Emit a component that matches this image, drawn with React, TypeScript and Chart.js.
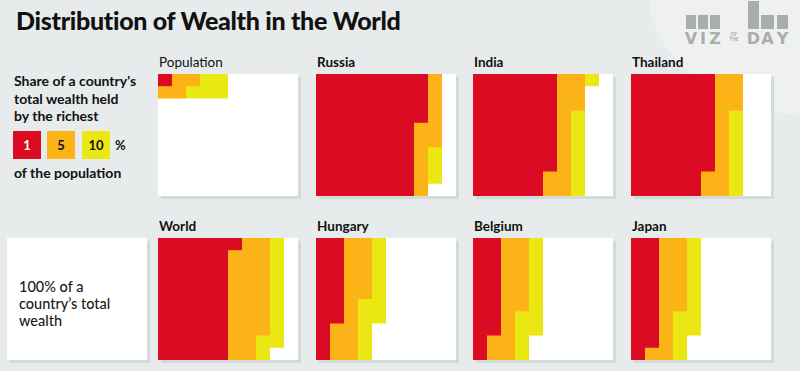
import React, { useEffect, useRef } from "react";
import { Chart, registerables } from "chart.js";
Chart.register(...registerables);

// ---- data ----
const panelNames = ["Population", "Russia", "India", "Thailand", "World", "Hungary", "Belgium", "Japan"];
// number of cells (out of 100) held by the richest 1%, 5%, 10% (cumulative)
const top1Cells = [1, 74, 58, 58, 51, 17, 18, 19];
const top5Cells = [5, 86, 73, 73, 78, 35, 36, 36];
const top10Cells = [10, 89, 81, 80, 89, 47, 48, 48];
const cellsPerColumn = [2, 10, 10, 10, 10, 10, 10, 10];
const columnLabels = ["1", "2", "3", "4", "5", "6", "7", "8", "9", "10"];
const legendLabels = ["1", "5", "10"];
const seriesNames = ["Richest 1%", "Richest 5%", "Richest 10%"];

const RED = "#da0b22";
const ORANGE = "#fbb317";
const YELLOW = "#ebe712";
const BG = "#e7ebeb";
const SHADOW = "#d3dada";
const LOGO = "#a9adad";
const FONT = "Lato, 'Noto Sans', sans-serif";

const panelLefts = [158, 316, 473, 631];
const panelTops = [74, 238];
const PW = 140;
const PH = 122;

function columnFill(total: number, perCol: number): (number | null)[] {
  return columnLabels.map((_, c) => {
    const v = Math.max(0, Math.min(perCol, total - perCol * c));
    return v > 0 ? v : null;
  });
}

export default function App() {
  const refs = useRef<(HTMLCanvasElement | null)[]>([]);

  useEffect(() => {
    document.body.style.margin = "0";
    const charts: Chart[] = [];
    panelNames.forEach((name, i) => {
      const cv = refs.current[i];
      if (!cv) return;
      const h = cellsPerColumn[i];
      const totals = [top1Cells[i], top5Cells[i], top10Cells[i]];
      const cols = [RED, ORANGE, YELLOW];
      charts.push(
        new Chart(cv, {
          type: "bar",
          data: {
            labels: columnLabels,
            datasets: totals.map((t, k) => ({
              label: seriesNames[k],
              data: columnFill(t, h),
              backgroundColor: cols[k],
              borderWidth: 0,
              inflateAmount: 0,
              grouped: false,
              barPercentage: 1,
              categoryPercentage: 1,
            })) as any,
          },
          options: {
            animation: false,
            responsive: false,
            maintainAspectRatio: false,
            events: [],
            layout: { padding: 0 },
            plugins: { legend: { display: false }, tooltip: { enabled: false } },
            scales: {
              x: { display: false, grid: { display: false } },
              y: { display: false, min: 0, max: 10, reverse: true },
            },
          },
        })
      );
    });
    return () => charts.forEach((c) => c.destroy());
  }, []);

  const boxStyle = (left: number, top: number): React.CSSProperties => ({
    position: "absolute",
    left,
    top,
    width: PW,
    height: PH,
    background: "#fff",
    boxShadow: `3px 3px 0 ${SHADOW}`,
  });

  const logoBars = [
    [686, 15, 10], [698, 15, 10], [710, 15, 10],
    [748, 1, 11], [761, 15, 13], [777, 15, 11],
  ];
  const logoLetters = [
    ["V", 691], ["I", 703], ["Z", 715], ["D", 753.5], ["A", 767.5], ["Y", 782.5],
  ];

  return (
    <div
      style={{
        position: "absolute",
        left: 0,
        top: 0,
        width: 800,
        height: 371,
        background: BG,
        overflow: "hidden",
        fontFamily: FONT,
        color: "#111",
      }}
    >
      {/* lighter corner */}
      <div
        style={{
          position: "absolute",
          left: 650,
          top: -120,
          width: 400,
          height: 240,
          borderRadius: "50%",
          background: "#eff1f1",
        }}
      />
      {/* logo */}
      {logoBars.map(([x, y, w], i) => (
        <div key={"b" + i} style={{ position: "absolute", left: x, top: y, width: w, height: 29 - y, background: LOGO }} />
      ))}
      {logoLetters.map(([t, cx], i) => (
        <div
          key={"l" + i}
          style={{
            position: "absolute",
            left: (cx as number) - 8,
            width: 16,
            top: 29,
            textAlign: "center",
            fontSize: 16,
            fontWeight: 700,
            color: LOGO,
            fontFamily: "'DejaVu Sans', sans-serif",
          }}
        >
          {t}
        </div>
      ))}
      <div style={{ position: "absolute", left: 724, top: 32, width: 20, textAlign: "center", fontSize: 5, lineHeight: "5px", color: LOGO, fontWeight: 700 }}>
        OF
        <br />
        THE
      </div>

      {/* title */}
      <div style={{ position: "absolute", left: 16, top: 5, fontSize: 25, fontWeight: 900, whiteSpace: "nowrap", letterSpacing: -0.3 }}>
        Distribution of Wealth in the World
      </div>

      {/* legend text */}
      <div style={{ position: "absolute", left: 14, top: 72, fontSize: 14, fontWeight: 700, lineHeight: "17.5px" }}>
        Share of a country's
        <br />
        total wealth held
        <br />
        by the richest
      </div>
      {legendLabels.map((t, i) => (
        <div
          key={"sq" + i}
          style={{
            position: "absolute",
            left: [13, 47, 82][i],
            top: 131,
            width: 28,
            height: 28,
            background: [RED, ORANGE, YELLOW][i],
            color: i === 0 ? "#fff" : "#111",
            fontSize: 13,
            fontWeight: 700,
            lineHeight: "28px",
            textAlign: "center",
          }}
        >
          {t}
        </div>
      ))}
      <div style={{ position: "absolute", left: 115, top: 131, fontSize: 13, fontWeight: 700, lineHeight: "28px" }}>%</div>
      <div style={{ position: "absolute", left: 14, top: 164, fontSize: 14, fontWeight: 700 }}>of the population</div>

      {/* 100% box */}
      <div style={boxStyle(7, 238)} />
      <div style={{ position: "absolute", left: 19, top: 278, fontSize: 14.5, fontWeight: 500, lineHeight: "17px", color: "#1a1a1a" }}>
        100% of a
        <br />
        country’s total
        <br />
        wealth
      </div>

      {/* panels */}
      {panelNames.map((name, i) => {
        const left = panelLefts[i % 4];
        const top = panelTops[Math.floor(i / 4)];
        return (
          <React.Fragment key={name}>
            <div
              style={{
                position: "absolute",
                left: left + 1,
                top: top - 20,
                fontSize: 13.5,
                fontWeight: i === 0 ? 400 : 700,
                whiteSpace: "nowrap",
              }}
            >
              {name}
            </div>
            <div style={boxStyle(left, top)}>
              <canvas ref={(el) => (refs.current[i] = el)} width={PW} height={PH} style={{ display: "block" }} />
            </div>
          </React.Fragment>
        );
      })}
    </div>
  );
}
